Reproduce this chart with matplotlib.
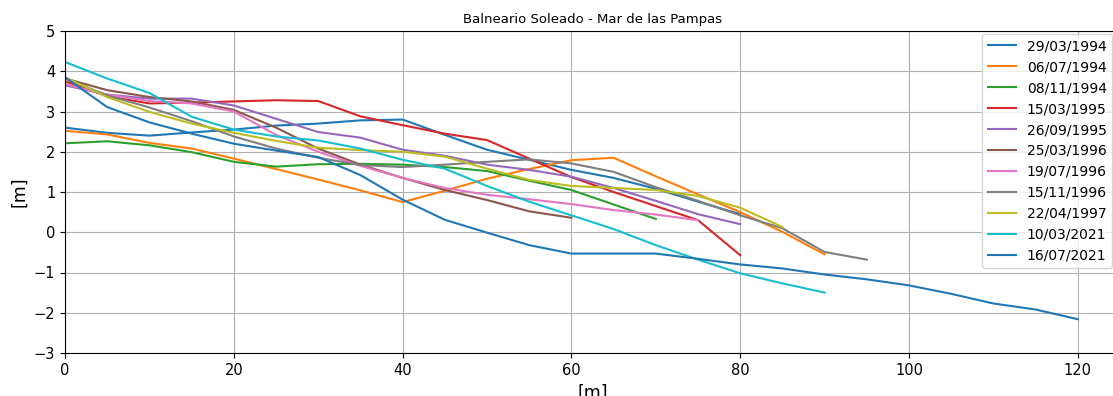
import matplotlib
matplotlib.use("Agg")
import matplotlib.pyplot as plt

# Beach profiles: distance along transect [m] vs elevation [m]
dates = ["29/03/1994", "06/07/1994", "08/11/1994", "15/03/1995", "26/09/1995",
         "25/03/1996", "19/07/1996", "15/11/1996", "22/04/1997", "10/03/2021",
         "16/07/2021"]

p_29_03_1994 = [2.60, 2.47, 2.40, 2.48, 2.55, 2.65, 2.70, 2.78, 2.80, 2.42, 2.05,
                1.80, 1.55, 1.35, 1.08, 0.76, 0.45]
p_06_07_1994 = [2.52, 2.43, 2.22, 2.08, 1.83, 1.57, 1.31, 1.04, 0.75, 1.03, 1.33,
                1.57, 1.79, 1.85, 1.39, 0.94, 0.50, 0.01, -0.55]
p_08_11_1994 = [2.21, 2.26, 2.16, 1.99, 1.75, 1.63, 1.69, 1.70, 1.68, 1.62, 1.52,
                1.28, 1.05, 0.69, 0.33]
p_15_03_1995 = [3.75, 3.38, 3.20, 3.22, 3.25, 3.28, 3.26, 2.88, 2.66, 2.45, 2.29,
                1.83, 1.37, 1.00, 0.65, 0.30, -0.57]
p_26_09_1995 = [3.65, 3.42, 3.32, 3.32, 3.15, 2.82, 2.49, 2.35, 2.05, 1.90, 1.68,
                1.55, 1.38, 1.10, 0.78, 0.45, 0.20]
p_25_03_1996 = [3.82, 3.53, 3.36, 3.25, 3.04, 2.60, 2.08, 1.68, 1.35, 1.05, 0.80,
                0.52, 0.36]
p_19_07_1996 = [3.68, 3.42, 3.26, 3.20, 3.00, 2.42, 2.00, 1.65, 1.35, 1.10, 0.93,
                0.82, 0.70, 0.55, 0.44, 0.30]
p_15_11_1996 = [3.82, 3.40, 3.10, 2.76, 2.38, 2.08, 1.85, 1.67, 1.62, 1.68, 1.75,
                1.81, 1.71, 1.50, 1.12, 0.78, 0.42, 0.10, -0.49, -0.68]
p_22_04_1997 = [3.85, 3.36, 2.99, 2.70, 2.47, 2.27, 2.10, 2.04, 2.00, 1.88, 1.58,
                1.30, 1.15, 1.10, 1.05, 0.90, 0.61, 0.13]
p_10_03_2021 = [4.23, 3.82, 3.46, 2.87, 2.55, 2.38, 2.28, 2.08, 1.80, 1.58, 1.15,
                0.76, 0.42, 0.08, -0.32, -0.68, -1.02, -1.27, -1.50]
p_16_07_2021 = [3.85, 3.11, 2.73, 2.45, 2.20, 2.03, 1.87, 1.42, 0.81, 0.31, -0.01,
                -0.32, -0.53, -0.53, -0.53, -0.66, -0.80, -0.90, -1.05, -1.17,
                -1.32, -1.53, -1.77, -1.92, -2.16]

profiles = [p_29_03_1994, p_06_07_1994, p_08_11_1994, p_15_03_1995, p_26_09_1995,
            p_25_03_1996, p_19_07_1996, p_15_11_1996, p_22_04_1997, p_10_03_2021,
            p_16_07_2021]
step = 5  # spacing between survey points [m]

fig = plt.figure(figsize=(11.13, 3.96), dpi=100)
ax = fig.add_axes([65 / 1113, 43 / 396, 1055 / 1113, 322 / 396])

for label, z in zip(dates, profiles):
    x = [i * step for i in range(len(z))]
    ax.plot(x, z, lw=1.5, label=label)

ax.set_xlim(0, 125)
ax.set_ylim(-3, 5)
ax.set_xticks([0, 20, 40, 60, 80, 100, 120])
ax.set_yticks(range(-3, 6))
ax.tick_params(labelsize=10.5)
ax.grid(True, color="#b0b0b0", lw=0.8)
ax.set_title("Balneario Soleado - Mar de las Pampas", fontsize=9.5)
ax.set_xlabel("[m]", fontsize=12.5)
ax.set_ylabel("[m]", fontsize=12.5)

fig.legend(loc="upper right", bbox_to_anchor=(1.0, 1 - 33 / 396),
           borderaxespad=0.05, fontsize=10, framealpha=0.8)

fig.savefig("out.png", dpi=100)
